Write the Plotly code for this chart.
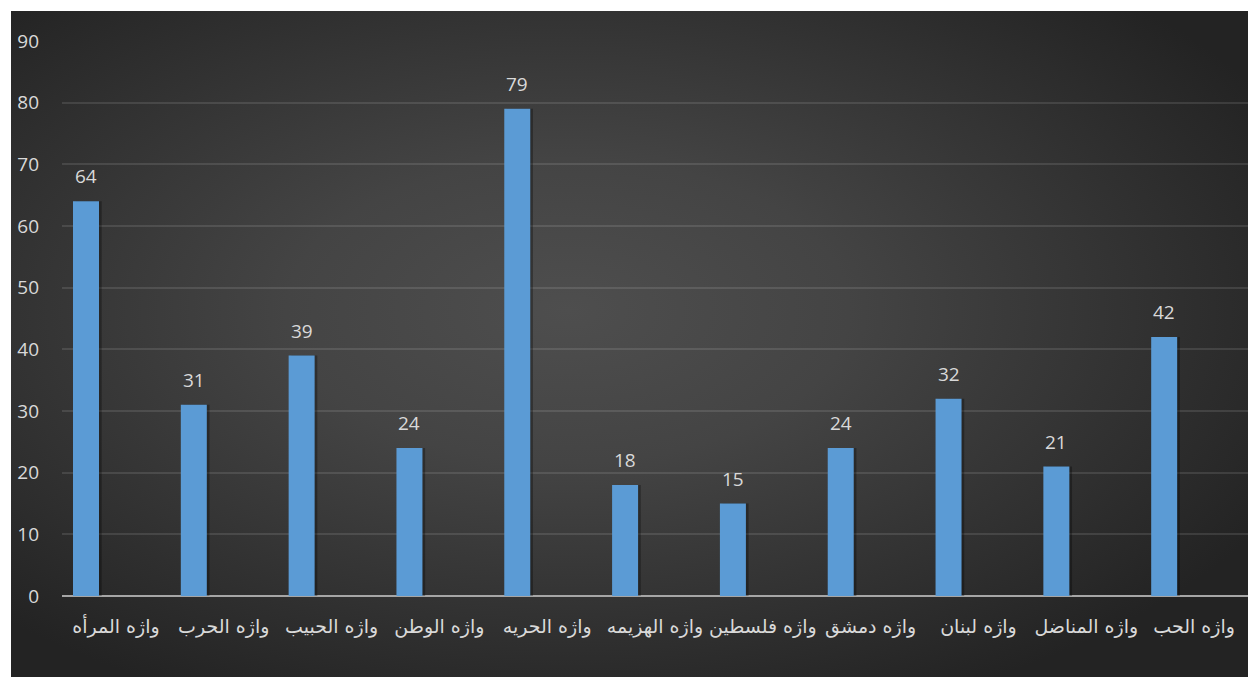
import base64
import plotly.graph_objects as go

categories = ["واژه المرأه", "واژه الحرب", "واژه الحبيب", "واژه الوطن", "واژه الحريه",
              "واژه الهزيمه", "واژه فلسطين", "واژه دمشق", "واژه لبنان", "واژه المناضل", "واژه الحب"]
values = [64, 31, 39, 24, 79, 18, 15, 24, 32, 21, 42]
y_ticks = [0, 10, 20, 30, 40, 50, 60, 70, 80, 90]

W, H = 1248, 677
L, R, T, B = 62, 0, 41, 81
pw, ph = W - L - R, H - T - B

svg = ("<svg xmlns='http://www.w3.org/2000/svg' width='1237' height='666' preserveAspectRatio='none'>"
       "<defs><radialGradient id='g' cx='45%' cy='45%' r='65%'>"
       "<stop offset='0' stop-color='#4e4e4e'/><stop offset='0.35' stop-color='#444444'/>"
       "<stop offset='1' stop-color='#232323'/>"
       "</radialGradient></defs><rect width='1237' height='666' fill='url(#g)'/></svg>")
src = "data:image/svg+xml;base64," + base64.b64encode(svg.encode()).decode()

xs = list(range(len(categories)))
bw = 26 / (pw / len(categories))
off = -0.5 + 11 / (pw / len(categories))

fig = go.Figure()
# shadow
fig.add_trace(go.Bar(x=xs, y=values, width=bw, offset=off + 0.025,
                     marker=dict(color="rgba(0,0,0,0.3)", line=dict(width=0)),
                     hoverinfo="skip", showlegend=False))
fig.add_trace(go.Bar(x=xs, y=values, width=bw, offset=off,
                     marker=dict(color="#5b9bd5", line=dict(width=0)), showlegend=False))
fig.update_layout(barmode="overlay")

for x, v in zip(xs, values):
    fig.add_annotation(x=x + off + bw / 2, y=v, text=str(v), showarrow=False,
                       yshift=25, font=dict(family="Open Sans", size=19, color="#d9d9d9"))

fig.add_layout_image(dict(source=src, xref="paper", yref="paper",
                          x=(11 - L) / pw, y=(H - B - 11) / ph,
                          sizex=(W - 11) / pw, sizey=(H - 11) / ph,
                          xanchor="left", yanchor="top", sizing="stretch", layer="below"))

fig.update_layout(
    width=W, height=H,
    margin=dict(l=L, r=R, t=T, b=B, pad=0),
    paper_bgcolor="white", plot_bgcolor="rgba(0,0,0,0)",
    xaxis=dict(tickmode="array", tickvals=xs, ticktext=categories,
               range=[-0.5, len(categories) - 0.5], showgrid=False, zeroline=False,
               showline=False, ticks="", ticklabelstandoff=17,
               tickfont=dict(family="DejaVu Sans", size=19, color="#d9d9d9")),
    yaxis=dict(range=[0, 90], tickvals=y_ticks, showgrid=True,
               gridcolor="rgba(255,255,255,0.11)", gridwidth=1.5,
               zeroline=True, zerolinecolor="#a6a6a6", zerolinewidth=2,
               showline=False, ticks="", ticklabelstandoff=22,
               tickfont=dict(family="Open Sans", size=19, color="#d9d9d9")),
)

fig.write_html("out.html")
